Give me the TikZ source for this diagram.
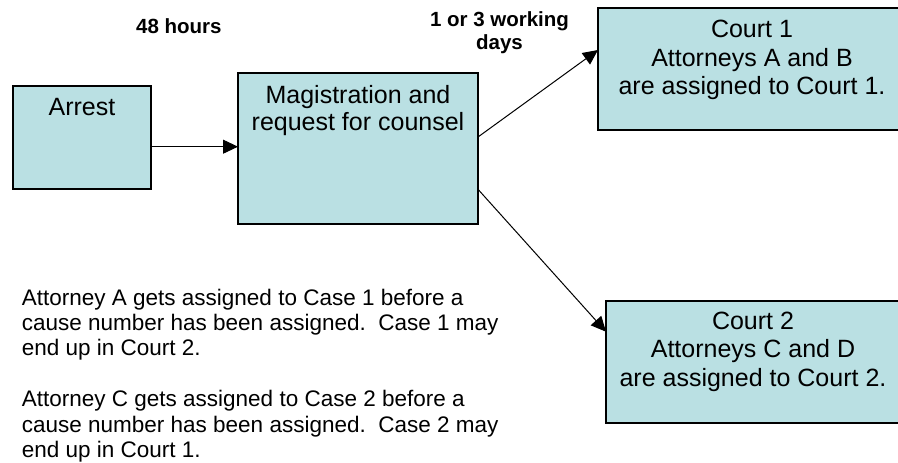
\documentclass[tikz,border=0pt]{standalone}
\usepackage{fontspec}
\setmainfont{Liberation Sans}
\usetikzlibrary{arrows.meta}
\definecolor{boxfill}{HTML}{BAE0E3}
\begin{document}
\begin{tikzpicture}[x=1pt,y=-1pt,
  box/.style={draw=black, line width=1.2pt, fill=boxfill, inner sep=0pt, outer sep=0pt},
  boxtext/.style={anchor=north, inner sep=0pt, align=center, font=\fontsize{25}{28.3}\selectfont},
  lbl/.style={inner sep=0pt, align=center, font=\fontsize{20.5}{23.5}\selectfont\bfseries},
  note/.style={anchor=north west, inner sep=0pt, align=left, font=\fontsize{22.5}{25.3}\selectfont},
  arr/.style={line width=1pt, -{Triangle[length=15pt,width=14pt]}}]
\clip (0,0) rectangle (898,463);
\fill[white] (0,0) rectangle (898,463);
% boxes
\node[box, minimum width=138pt, minimum height=103pt] (arrest) at (82,137.5) {};
\node[box, minimum width=240pt, minimum height=151pt] (mag) at (358,148.5) {};
\node[box, minimum width=308pt, minimum height=122pt] (court1) at (752,69) {};
\node[box, minimum width=294pt, minimum height=122pt] (court2) at (753,362) {};
% box texts
\node[boxtext] (arresttxt) at ([yshift=-11.8pt]arrest.north) {Arrest};
\node[boxtext, font=\fontsize{25}{26.7}\selectfont] (magtxt) at ([yshift=-12.1pt]mag.north) {Magistration and\\request for counsel};
\node[boxtext] (court1txt) at ([yshift=-12.1pt]court1.north) {Court 1\\Attorneys A and B\\are assigned to Court 1.};
\node[boxtext] (court2txt) at ([yshift=-10.8pt]court2.north) {Court 2\\Attorneys C and D\\are assigned to Court 2.};
% arrows
\draw[arr] ([yshift=-9.2pt]arrest.east) -- ([yshift=1.8pt]mag.west);
\draw[arr] ([yshift=11.5pt]mag.east) -- ([yshift=19pt]court1.west);
\draw[arr] ([yshift=-40.8pt]mag.east) -- ([yshift=30.3pt]court2.west);
% labels
\node[lbl, anchor=base] (h48) at (178.9,33.3) {48 hours};
\node[lbl, anchor=north] (days) at (499.5,11.3) {1 or 3 working\\days};
% notes
\node[note] (note1) at (21.7,288.6) {Attorney A gets assigned to Case 1 before a\\cause number has been assigned.\ \ Case 1 may\\end up in Court 2.};
\node[note] (note2) at (21.7,390.3) {Attorney C gets assigned to Case 2 before a\\cause number has been assigned.\ \ Case 2 may\\end up in Court 1.};
\end{tikzpicture}
\end{document}
